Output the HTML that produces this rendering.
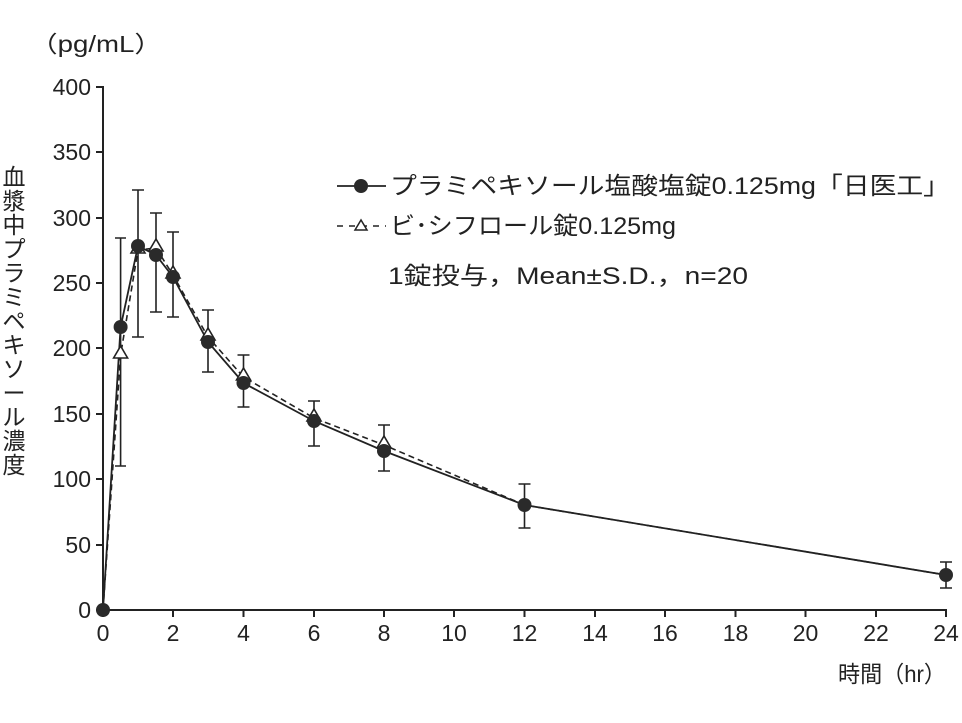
<!DOCTYPE html>
<html><head><meta charset="utf-8"><style>
body{margin:0;background:#fff}
svg text{font-family:"Liberation Sans","Noto Sans CJK JP",sans-serif;fill:#222}
</style></head><body>
<svg width="962" height="718" viewBox="0 0 962 718" xmlns="http://www.w3.org/2000/svg">
<g stroke="#222" stroke-width="2" fill="none">
<line x1="103" y1="86" x2="103" y2="611"/>
<line x1="102" y1="610" x2="947" y2="610"/>
<path d="M96 87H103M96 152H103M96 218H103M96 283H103M96 348H103M96 414H103M96 479H103M96 545H103M96 610H103"/>
<path d="M103 610V617M173 610V617M243.5 610V617M314 610V617M384 610V617M454 610V617M524.5 610V617M595 610V617M665 610V617M735.5 610V617M805.5 610V617M876 610V617M946 610V617"/>
</g>
<g font-size="23" text-anchor="end">
<text x="91" y="95">400</text><text x="91" y="160">350</text><text x="91" y="226">300</text><text x="91" y="291">250</text><text x="91" y="356">200</text><text x="91" y="422">150</text><text x="91" y="487">100</text><text x="91" y="553">50</text><text x="91" y="618">0</text>
</g>
<g font-size="23" text-anchor="middle">
<text x="103" y="641">0</text><text x="173" y="641">2</text><text x="243.5" y="641">4</text><text x="314" y="641">6</text><text x="384" y="641">8</text><text x="454" y="641">10</text><text x="524.5" y="641">12</text><text x="595" y="641">14</text><text x="665" y="641">16</text><text x="735.5" y="641">18</text><text x="805.5" y="641">20</text><text x="876" y="641">22</text><text x="946" y="641">24</text>
</g>
<text x="30" y="52" font-size="23" textLength="132" lengthAdjust="spacingAndGlyphs">（pg/mL）</text>
<text x="838" y="682" font-size="23" textLength="108" lengthAdjust="spacingAndGlyphs">時間（hr）</text>
<g font-size="23" text-anchor="middle">
<text x="14" y="185">血</text><text x="14" y="209">漿</text><text x="14" y="233">中</text><text x="14" y="257">プ</text><text x="14" y="281">ラ</text><text x="14" y="305">ミ</text><text x="14" y="329">ペ</text><text x="14" y="353">キ</text><text x="14" y="377">ソ</text><text x="14" y="401">ー</text><text x="14" y="425">ル</text><text x="14" y="449">濃</text><text x="14" y="473">度</text>
</g>
<g stroke="#222" stroke-width="1.6">
<path d="M120.6 238V466M115 238H126M115 466H126"/>
<path d="M138 190V337M132 190H144M132 337H144"/>
<path d="M156 213V312M150 213H162M150 312H162"/>
<path d="M173 232V317M167 232H179M167 317H179"/>
<path d="M208 310V372M202 310H214M202 372H214"/>
<path d="M243.5 355V407M237.5 355H249.5M237.5 407H249.5"/>
<path d="M314 401V446M308 401H320M308 446H320"/>
<path d="M384 425V471M378 425H390M378 471H390"/>
<path d="M524.5 484V528M518.5 484H530.5M518.5 528H530.5"/>
<path d="M946 562V588M940 562H952M940 588H952"/>
</g>
<polyline fill="none" stroke="#222" stroke-width="1.6" stroke-dasharray="6,4" points="103,610 120.6,355 138,250 156,248 173,275 208,337 243.5,377 314,418 384,445 524.5,505 946,575"/>
<polyline fill="none" stroke="#222" stroke-width="1.8" points="103,610 120.6,327 138,246 156,255 173,277 208,342 243.5,383 314,421 384,451 524.5,505 946,575"/>
<g fill="#fff" stroke="#222" stroke-width="1.6">
<path d="M120.6 346l-7 12h14z"/><path d="M138 241l-7 12h14z"/><path d="M156 239l-7 12h14z"/><path d="M173 266l-7 12h14z"/><path d="M208 328l-7 12h14z"/><path d="M243.5 368l-7 12h14z"/><path d="M314 409l-7 12h14z"/><path d="M384 436l-7 12h14z"/>
</g>
<g fill="#2a2a2a">
<circle cx="103" cy="610" r="7"/><circle cx="120.6" cy="327" r="7"/><circle cx="138" cy="246" r="7"/><circle cx="156" cy="255" r="7"/><circle cx="173" cy="277" r="7"/><circle cx="208" cy="342" r="7"/><circle cx="243.5" cy="383" r="7"/><circle cx="314" cy="421" r="7"/><circle cx="384" cy="451" r="7"/><circle cx="524.5" cy="505" r="7"/><circle cx="946" cy="575" r="7"/>
</g>
<line x1="337" y1="186" x2="386" y2="186" stroke="#222" stroke-width="1.8"/>
<circle cx="361" cy="186" r="7" fill="#2a2a2a"/>
<text x="390" y="194" font-size="24" textLength="560" lengthAdjust="spacingAndGlyphs">プラミペキソール塩酸塩錠0.125mg「日医工」</text>
<line x1="337" y1="226" x2="386" y2="226" stroke="#222" stroke-width="1.6" stroke-dasharray="6,6"/>
<path d="M361 220l-6 10h12z" fill="#fff" stroke="#222" stroke-width="1.5"/>
<text x="390" y="234" font-size="24" textLength="286" lengthAdjust="spacingAndGlyphs">ビ･シフロール錠0.125mg</text>
<text x="388" y="284" font-size="24" textLength="360" lengthAdjust="spacingAndGlyphs">1錠投与，Mean±S.D.，n=20</text>
</svg>
</body></html>
